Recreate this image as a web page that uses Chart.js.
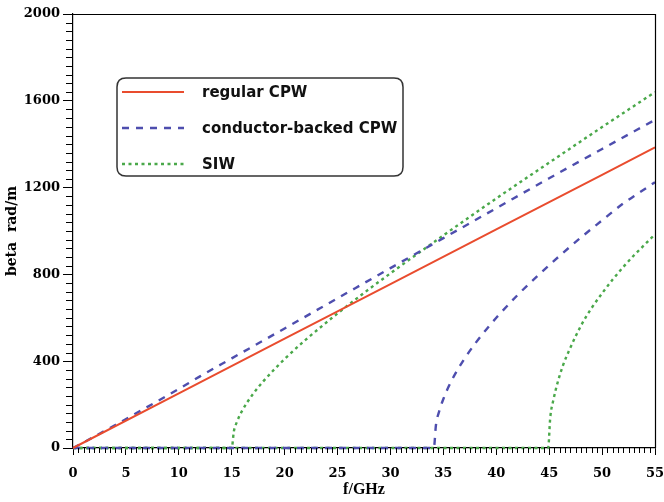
<!DOCTYPE html>
<html><head><meta charset="utf-8">
<script src="https://cdn.jsdelivr.net/npm/chart.js@4.4.0/dist/chart.umd.min.js"></script>
<style>html,body{margin:0;padding:0;background:#fff}#wrap{width:664px;height:502px;position:relative}</style>
</head><body><div id="wrap"><canvas id="c" width="664" height="502"></canvas></div>
<script>
// ---- data ----
const xTickValues = [0,5,10,15,20,25,30,35,40,45,50,55];
const yTickValues = [0,400,800,1200,1600,2000];

const regularF    = [0,10,20,30,40,50,55];
const regularBeta = [0,252,504,755,1007,1259,1385];

const cbF1    = [0,2,4,6,8,10,12,15,20,25,30,35,40,45,50,55];
const cbBeta1 = [0,52,106,161,216,272,330,413,551,690,829,967,1105,1243,1378,1512];

const cbF2    = [0,34.1,34.3,34.6,35,35.5,36,37,38,39,40,42,44,46,48,50,52,53,55];
const cbBeta2 = [0,0,106,168,226,283,331,412,481,543,600,704,798,886,970,1049,1127,1160,1225];

const siwF1    = [0,15,15.2,15.5,16,17,18,20,22,25,28,30,35,40,45,50,55];
const siwBeta1 = [0,0,76,121,173,248,308,410,499,620,733,805,980,1150,1315,1479,1640];

const siwF2    = [0,44.9,45.1,45.4,45.8,46.3,47,48,49,50,51,52,53,54,55];
const siwBeta2 = [0,0,140,222,302,380,462,563,644,713,776,834,887,936,985];

const seriesLabels = ['regular CPW','conductor-backed CPW','SIW'];
// -------------------------------------

const RED='#e94c2e', BLUE='#4e4eae', GREEN='#4aa84a';
const pts=(f,b)=>f.map((v,i)=>({x:v,y:b[i]}));

const base={fill:false,pointRadius:0,borderCapStyle:'butt',cubicInterpolationMode:'monotone',clip:6};
const datasets=[
  Object.assign({},base,{label:seriesLabels[0],data:pts(regularF,regularBeta),borderColor:RED,borderWidth:2,legend:true}),
  Object.assign({},base,{label:seriesLabels[1],data:pts(cbF1,cbBeta1),borderColor:BLUE,borderWidth:2.4,borderDash:[7,7],legend:true}),
  Object.assign({},base,{label:seriesLabels[1],data:pts(cbF2,cbBeta2),borderColor:BLUE,borderWidth:2.4,borderDash:[7,7]}),
  Object.assign({},base,{label:seriesLabels[2],data:pts(siwF1,siwBeta1),borderColor:GREEN,borderWidth:2.4,borderDash:[3,3.5],legend:true}),
  Object.assign({},base,{label:seriesLabels[2],data:pts(siwF2,siwBeta2),borderColor:GREEN,borderWidth:2.4,borderDash:[3,3.5]})
];

const frameAndMinor={
  id:'frameAndMinor',
  afterDraw(chart){
    const {ctx,chartArea:a,scales:{x,y}}=chart;
    ctx.save();
    ctx.strokeStyle='#000';ctx.lineWidth=1.2;
    ctx.beginPath();
    ctx.moveTo(a.left,a.top+0.5);ctx.lineTo(a.right+0.5,a.top+0.5);ctx.lineTo(a.right+0.5,a.bottom);
    ctx.stroke();
    ctx.lineWidth=1;
    ctx.beginPath();
    for(let v=0;v<=55.001;v+=0.5){
      if(Math.abs(v/5-Math.round(v/5))<1e-6) continue;
      const px=Math.round(x.getPixelForValue(v))+0.5;
      ctx.moveTo(px,a.bottom);ctx.lineTo(px,a.bottom+5);
    }
    for(let v=0;v<=2000.001;v+=40){
      if(v%400===0) continue;
      const py=Math.round(y.getPixelForValue(v))+0.5;
      ctx.moveTo(a.left,py);ctx.lineTo(a.left-7,py);
    }
    ctx.stroke();
    ctx.restore();
  }
};

const boxLegend={
  id:'boxLegend',
  afterDraw(chart){
    const ctx=chart.ctx;
    const L=117,T=78,R=403,B=176,r=9;
    ctx.save();
    ctx.fillStyle='#fff';ctx.strokeStyle='#333';ctx.lineWidth=1.5;
    ctx.beginPath();
    ctx.moveTo(L+r,T);ctx.lineTo(R-r,T);ctx.quadraticCurveTo(R,T,R,T+r);
    ctx.lineTo(R,B-r);ctx.quadraticCurveTo(R,B,R-r,B);
    ctx.lineTo(L+r,B);ctx.quadraticCurveTo(L,B,L,B-r);
    ctx.lineTo(L,T+r);ctx.quadraticCurveTo(L,T,L+r,T);
    ctx.closePath();ctx.fill();ctx.stroke();
    const items=chart.data.datasets.filter(d=>d.legend);
    ctx.font='bold 15px "DejaVu Sans"';
    ctx.textBaseline='middle';ctx.textAlign='left';
    items.forEach((d,i)=>{
      const yy=92+i*36;
      ctx.strokeStyle=d.borderColor;ctx.lineWidth=d.borderWidth;
      ctx.setLineDash(d.borderDash||[]);
      ctx.beginPath();ctx.moveTo(122,yy);ctx.lineTo(184,yy);ctx.stroke();
      ctx.setLineDash([]);
      ctx.fillStyle='#111';
      ctx.fillText(d.label,202,yy+1);
    });
    ctx.restore();
  }
};

const tickFont={family:'"DejaVu Serif"',size:13,weight:'bold'};
new Chart(document.getElementById('c'),{
  type:'line',
  data:{datasets},
  options:{
    responsive:false,animation:false,
    layout:{padding:{left:0,right:9,top:14,bottom:0}},
    plugins:{legend:{display:false},tooltip:{enabled:false}},
    scales:{
      x:{type:'linear',min:0,max:55,
        afterBuildTicks(s){s.ticks=xTickValues.map(v=>({value:v}));},
        afterFit(s){s.height=54;s.paddingLeft=0;s.paddingRight=0;},
        ticks:{font:tickFont,color:'#000',padding:11,maxRotation:0,autoSkip:false,callback:v=>String(v)},
        grid:{drawOnChartArea:false,drawTicks:true,tickLength:7,tickColor:'#000',lineWidth:1},
        border:{display:true,color:'#000',width:1.2},
        title:{display:true,text:'f/GHz',color:'#000',font:{family:'"Liberation Serif"',size:16,weight:'bold'},padding:{top:0,bottom:3}}
      },
      y:{type:'linear',min:0,max:2000,
        afterBuildTicks(s){s.ticks=yTickValues.map(v=>({value:v}));},
        afterFit(s){s.width=73;s.paddingTop=0;s.paddingBottom=0;},
        ticks:{font:tickFont,color:'#000',padding:3,autoSkip:false,callback:v=>String(v)},
        grid:{drawOnChartArea:false,drawTicks:true,tickLength:10,tickColor:'#000',lineWidth:1},
        border:{display:true,color:'#000',width:1.2},
        title:{display:true,text:'beta  rad/m',color:'#000',font:{family:'"DejaVu Serif"',size:14,weight:'bold'},padding:{top:4,bottom:0}}
      }
    }
  },
  plugins:[frameAndMinor,boxLegend]
});
</script></body></html>
